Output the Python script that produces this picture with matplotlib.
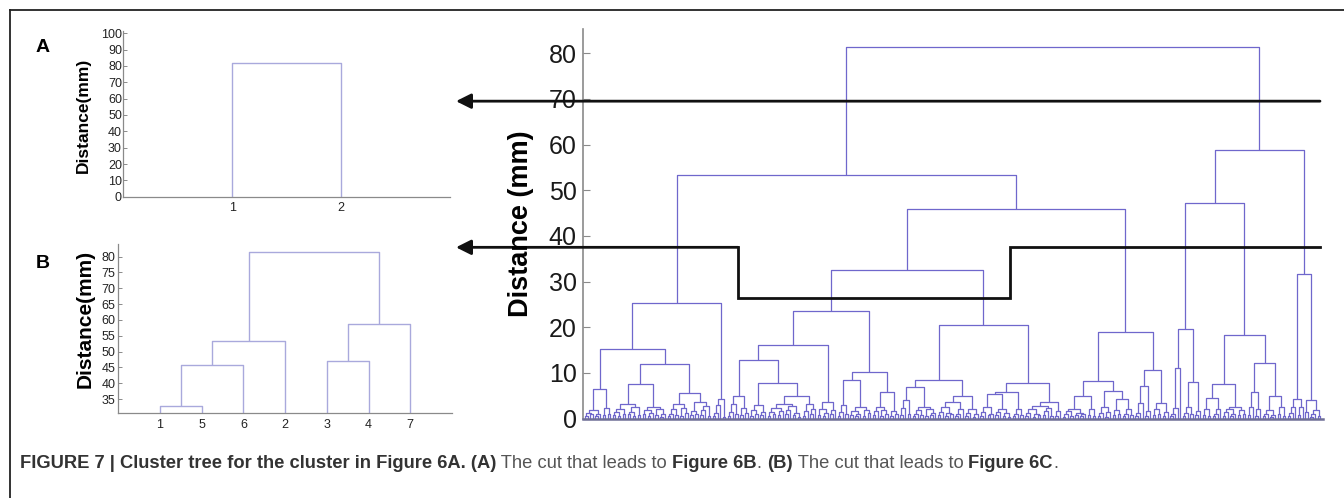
import matplotlib
matplotlib.use("Agg")
import matplotlib.pyplot as plt
from matplotlib.collections import LineCollection

plt.rcParams['font.family'] = ['Liberation Sans', 'DejaVu Sans']

# tree notation: (height, left, right); 0 = single leaf; a bare float = two leaves joined at that height

# ---- panel A / B (small trees) ----
tree_a = (81.7, 0, 0)
labels_a = ['1', '2']
tree_b = (81.5, (53.4, (45.9, 32.8, 0), 0), (58.8, 47.1, 0))
labels_b = ['1', '5', '6', '2', '3', '4', '7']

# ---- big tree, left branch (LL) ----
c1a = (1.9, (1.2, 0.6, 0.9), (1.0, 0.5, 0))
c1b = (2.25, 0.8, 1.1)
c2a1 = (3.1, (2.2, (1.4, 0.7, 0.5), 1.1), (2.6, (1.5, 0.9, 0.6), 0.8))
c2a2 = (2.6, (1.8, 0.9, (1.2, 0.5, 0)), (2.1, 0.7, (1.0, 0.4, 0)))
c2b1 = (3.1, (2.0, (1.1, 0.6, 0), 0.8), (2.4, 0.5, 1.3))
c2b2 = (3.6, (1.6, 0.7, 1.0), (2.7, (1.9, 0.8, 0), 0.6))
c3a = (3.0, (1.2, 0.5, 0), 0)
LL = (25.4, (15.2, (6.4, c1a, c1b), (11.9, (7.6, c2a1, c2a2), (5.7, c2b1, c2b2))),
      (4.4, c3a, 0.4))

# ---- middle branch ----
c4a = (3.3, (1.5, 0.6, 0), 0.9)
c4b = (2.4, 0.7, 1.2)
c5 = (3.0, (1.8, 0.5, 1.0), (1.4, 0.7, 0))
c6a = (3.3, (2.4, (1.5, 0.6, 0.9), (1.7, 0.8, 0)), (2.8, (1.9, 1.1, 0), (1.3, 0.7, 0.4)))
c6b = (3.3, (1.6, 0.6, 0), (2.1, 0.9, 0))
c7 = (3.7, (2.2, 0.7, (1.3, 0.5, 0)), (1.8, 0.9, 0))
c8a = (3.0, (1.4, 0.6, 0), 0.9)
c8b = (2.5, (1.7, 0.8, (1.1, 0.5, 0)), (1.9, 0.6, 1.2))
c9a = (2.5, (1.6, 0.7, 0), (1.9, 0.5, 1.0))
c9b = (1.7, 0.6, 0.9)
n830 = (23.5, (16.1, (12.8, (4.9, c4a, c4b), (7.9, c5, (5.0, c6a, c6b))), c7),
        (10.1, (8.4, c8a, c8b), (5.8, c9a, c9b)))

c10a = (4.0, (2.3, 0.8, 0), 1.1)
c10b = (2.5, (1.8, (1.0, 0.5, 0), 0.7), (2.1, 0.6, (1.3, 0.8, 0)))
c11a = (3.6, (2.6, (1.5, 0.7, 0), (1.2, 0.5, 0.9)), (2.0, (1.1, 0.6, 0), 0))
c11b = (2.0, (1.3, 0.5, 0), (0.9, 0.4, 0))
c12a = (2.5, (1.4, 0.6, 0), (1.1, 0.8, 0))
c12b = (2.2, (1.5, 0.7, 0), (1.2, 0.5, 0.4))
c12c = (2.2, (1.0, 0.5, 0), 0.8)
c13a = (2.8, (2.0, (1.3, 0.6, 0), (1.0, 0.4, 0.7)), (2.3, (1.6, 0.8, 0), 0.5))
c13b = (1.6, 0.6, 0)
n982 = (20.4, (8.4, (7.0, c10a, c10b), (5.0, c11a, c11b)),
        (7.9, (5.8, (5.3, c12a, c12b), c12c), (3.6, c13a, c13b)))

c14a = (2.2, (1.6, (0.9, 0.4, 0), 0.6), (1.3, 0.7, (1.0, 0.5, 0)))
c14b = (2.0, 0.8, 0.5)
c15a = (2.5, (1.2, 0.6, 0), (1.5, 0.4, 0))
c15b = (1.8, 0.7, 1.0)
c15c = (2.0, (1.1, 0.5, 0), 0.8)
c16a = (3.5, (1.2, 0.5, 0), 0)
c16b = (1.7, 0.6, 0)
c17a = (2.0, 0.7, 1.1)
c17b = (1.5, 0.5, 0)
n1126 = (19.0, (8.2, (4.9, c14a, c14b), (6.0, c15a, (4.4, c15b, c15c))),
         (10.6, (7.1, c16a, c16b), (3.5, c17a, c17b)))

# ---- right branch ----
c18a = (2.3, (1.0, 0.5, 0), 0)
c19a = (2.5, (1.3, 0.6, 0), 0.9)
c19b = (1.7, 0.7, 0)
c20a = (2.2, 0.8, 0.5)
c20b = (2.2, (1.1, 0.6, 0), 0)
c20c = (2.0, (1.4, 0.5, 0), (0.9, 0.6, 0))
c20d = (1.8, 0.7, 1.0)
c21a = (2.5, 0.8, 0)
c21b = (2.2, 0.6, 0)
c21c = (1.8, (1.1, 0.5, 0), (0.8, 0.4, 0))
c21d = (2.5, 0.9, 0.6)
RL = (47.1, (19.6, (11.0, c18a, 0), (8.1, c19a, c19b)),
      (18.4, (7.6, (4.6, c20a, c20b), (2.6, c20c, c20d)),
       (12.1, (5.8, c21a, c21b), (5.0, c21c, c21d))))
c22a = (2.5, (1.2, 0.5, 0), 0)
c22b = (2.5, 0.7, 0)
c23b = (1.8, (1.0, 0.4, 0), 0.6)
RR = (31.6, (4.4, c22a, c22b), (4.0, 1.5, c23b))

tree_main = (81.3, (53.3, LL, (45.8, (32.6, n830, n982), n1126)), (58.8, RL, RR))

# cut levels (mm) shown by the arrows, dip span as leaf index
cut_a = 69.5
cut_b = 37.5
cut_b_low = 26.5
dip_span = (61.2, 170)


def place(node, start, segs):
    if isinstance(node, tuple):
        h, a, b = node
    elif node == 0:
        return start, 0.0, start + 1
    else:
        h, a, b = node, 0, 0
    xa, ya, nxt = place(a, start, segs)
    xb, yb, nxt = place(b, nxt, segs)
    segs.append([(xa, ya), (xa, h), (xb, h), (xb, yb)])
    return (xa + xb) / 2, h, nxt


W, H = 1344, 498
fig = plt.figure(figsize=(W / 100, H / 100), dpi=100)


def fx(px):
    return px / W


def fy(py):
    return 1 - py / H


small_col = '#a9a9dc'
axis_col = '#8a8a8a'

# panel A
ax_a = fig.add_axes([fx(123.3), fy(196.7), fx(450 - 123.3), (196.7 - 31) / H])
segs = []
place(tree_a, 1, segs)
ax_a.add_collection(LineCollection(segs, colors=small_col, linewidths=1.0))
ax_a.set_xlim(0, 3)
ax_a.set_ylim(0, 101.4)
ax_a.set_yticks(range(0, 101, 10))
ax_a.set_xticks([1, 2])
ax_a.set_xticklabels(labels_a)

# panel B
ax_b = fig.add_axes([fx(118.3), fy(413.3), fx(452 - 118.3), (413.3 - 244) / H])
segs = []
place(tree_b, 1, segs)
ax_b.add_collection(LineCollection(segs, colors=small_col, linewidths=1.0))
ax_b.set_xlim(0, 8)
ax_b.set_ylim(30.5, 84)
ax_b.set_yticks(range(35, 81, 5))
ax_b.set_xticks(range(1, 8))
ax_b.set_xticklabels(labels_b)

for ax, ypad in ((ax_a, 1.0), (ax_b, 2.0)):
    for s in ('top', 'right'):
        ax.spines[s].set_visible(False)
    for s in ('left', 'bottom'):
        ax.spines[s].set_color(axis_col)
        ax.spines[s].set_linewidth(0.9)
    ax.tick_params(direction='in', length=3, width=0.7, color=axis_col, labelsize=9,
                   labelcolor='#222222')
    ax.tick_params(axis='y', pad=ypad)
    ax.tick_params(axis='x', pad=4)

fig.text(fx(43), fy(47), 'A', fontsize=14, fontweight='bold', ha='center', va='center')
fig.text(fx(43), fy(263), 'B', fontsize=14, fontweight='bold', ha='center', va='center')
fig.text(fx(83), fy(115.5), 'Distance(mm)', fontsize=12.5, fontweight='bold', rotation=90,
         ha='center', va='center')
fig.text(fx(85), fy(319), 'Distance(mm)', fontsize=15, fontweight='bold', rotation=90,
         ha='center', va='center')

# main dendrogram
ax = fig.add_axes([fx(583), fy(418.6), fx(740), (418.6 - 29) / H])
segs = []
_, _, n_leaves = place(tree_main, 0, segs)
ax.add_collection(LineCollection(segs, colors='#6f67cc', linewidths=0.9))
ax.set_xlim(-0.8, n_leaves + 0.2)
ax.set_ylim(0, 85.3)
ax.set_yticks(range(0, 81, 10))
ax.set_xticks([])
for s in ('top', 'right'):
    ax.spines[s].set_visible(False)
ax.spines['left'].set_color(axis_col)
ax.spines['left'].set_linewidth(1.2)
ax.spines['bottom'].set_color('#6e6e96')
ax.spines['bottom'].set_linewidth(1.8)
ax.tick_params(axis='y', direction='in', length=5, width=0.8, color=axis_col,
               labelsize=18, pad=4.5, labelcolor='#1a1a1a')
fig.text(fx(521), fy(224), 'Distance (mm)', fontsize=19.5, fontweight='bold', rotation=90,
         ha='center', va='center')

# cut arrows
right_end = n_leaves - 1
tip = -51.6
head = dict(arrowstyle='-|>,head_length=0.6,head_width=0.3', color='#111111', lw=2.0,
            mutation_scale=15, shrinkA=0, shrinkB=0)
ax.annotate('', xy=(tip, cut_a), xytext=(right_end, cut_a), arrowprops=head,
            annotation_clip=False)
ax.plot([right_end, dip_span[1], dip_span[1], dip_span[0], dip_span[0]],
        [cut_b, cut_b, cut_b_low, cut_b_low, cut_b], color='#111111', lw=2.0,
        clip_on=False, solid_joinstyle='miter')
ax.annotate('', xy=(tip, cut_b), xytext=(dip_span[0], cut_b), arrowprops=head,
            annotation_clip=False)

# frame lines
fig.add_artist(plt.Line2D([fx(10), 1], [fy(10), fy(10)], color='#222222', lw=1.3))
fig.add_artist(plt.Line2D([fx(10), fx(10)], [fy(10), 0], color='#222222', lw=1.3))

# caption with mixed weights
cap_family = ['Liberation Sans Narrow', 'DejaVu Sans Condensed', 'Liberation Sans']
pieces = [("FIGURE 7 | Cluster tree for the cluster in Figure 6A. (A)", True),
          (" The cut that leads to ", False), ("Figure 6B", True), (". ", False),
          ("(B)", True), (" The cut that leads to ", False), ("Figure 6C", True),
          (".", False)]
fig.canvas.draw()
r = fig.canvas.get_renderer()
x = fx(20)
for txt, bold in pieces:
    t = fig.text(x, fy(463), txt, fontsize=13.25, family=cap_family,
                 fontweight='bold' if bold else 'normal', ha='left', va='center',
                 color='#333333' if bold else '#555555')
    bb = t.get_window_extent(r)
    x = bb.x1 / fig.bbox.width

fig.savefig('out.png', dpi=100)
